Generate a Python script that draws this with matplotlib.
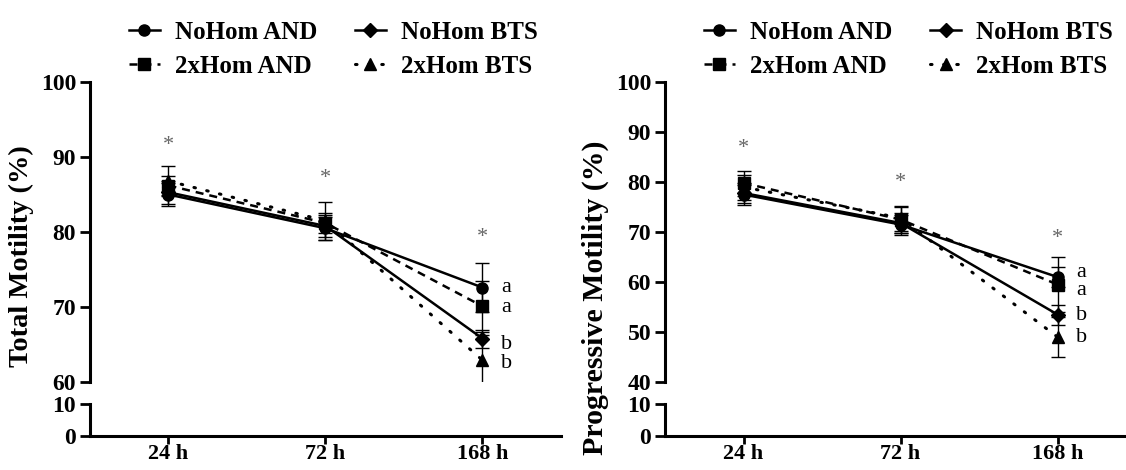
import matplotlib.pyplot as plt

plt.rcParams["font.family"] = ["Liberation Serif", "DejaVu Serif"]

times = ["24 h", "72 h", "168 h"]
series = ["NoHom AND", "NoHom BTS", "2xHom AND", "2xHom BTS"]

# Total motility (%), mean and error
total_mean = {
    "NoHom AND": [85.0, 80.5, 72.6],
    "NoHom BTS": [85.3, 80.8, 65.8],
    "2xHom AND": [86.2, 81.2, 70.1],
    "2xHom BTS": [86.8, 81.5, 62.9],
}
total_err = {
    "NoHom AND": [1.5, 1.5, 3.3],
    "NoHom BTS": [1.5, 1.5, 1.2],
    "2xHom AND": [1.3, 1.3, 3.4],
    "2xHom BTS": [2.0, 2.5, 3.4],
}
total_stars = [91.5, 87.2, 79.3]
total_letters = ["a", "b", "a", "b"]
total_letter_y = [72.6, 65.0, 70.0, 62.5]

# Progressive motility (%), mean and error
prog_mean = {
    "NoHom AND": [77.5, 71.5, 61.0],
    "NoHom BTS": [77.8, 71.8, 53.5],
    "2xHom AND": [79.8, 72.5, 59.5],
    "2xHom BTS": [79.0, 72.8, 49.0],
}
prog_err = {
    "NoHom AND": [2.0, 2.0, 2.0],
    "NoHom BTS": [2.0, 2.0, 2.0],
    "2xHom AND": [2.5, 2.6, 5.5],
    "2xHom BTS": [2.5, 2.5, 4.0],
}
prog_stars = [86.7, 80.0, 68.8]
prog_letters = ["a", "b", "a", "b"]
prog_letter_y = [62.0, 53.3, 58.4, 48.9]

styles = {
    "NoHom AND": dict(marker="o", linestyle="-"),
    "NoHom BTS": dict(marker="D", linestyle="-", markersize=7),
    "2xHom AND": dict(marker="s", linestyle=(0, (3.2, 2.4))),
    "2xHom BTS": dict(marker="^", linestyle=(0, (0.5, 3.8)), linewidth=2.2,
                      dash_capstyle="round"),
}


def style_axis(ax):
    ax.spines["top"].set_visible(False)
    ax.spines["right"].set_visible(False)
    ax.spines["left"].set_linewidth(2.2)
    ax.spines["bottom"].set_linewidth(2.2)
    ax.tick_params(axis="y", direction="out", length=7, width=2, pad=3, labelsize=17)
    ax.tick_params(axis="x", direction="out", length=5.5, width=2, pad=0.5, labelsize=16)
    for lab in ax.get_yticklabels() + ax.get_xticklabels():
        lab.set_fontweight("bold")


def draw_panel(fig, left, width, means, errs, stars, letters, letter_y,
               ylo, ylabel, label_size, label_y):
    ax = fig.add_axes([left, 0.1872, width, 0.6383])
    axb = fig.add_axes([left, 0.0723, width, 0.068])
    x = list(range(len(times)))
    handles = []
    for name in series:
        st = dict(styles[name])
        ms = st.pop("markersize", 8)
        lw = st.pop("linewidth", 1.8)
        ax.errorbar(x, means[name], yerr=errs[name], fmt="none", ecolor="black",
                    elinewidth=1, capsize=5, capthick=1, zorder=2)
        (h,) = ax.plot(x, means[name], color="black", linewidth=lw,
                       markersize=ms, label=name, zorder=3, **st)
        handles.append(h)
    for xi, sy in zip(x, stars):
        ax.text(xi, sy, "*", ha="center", va="center", fontsize=16, color="#666666")
    for let, ly in zip(letters, letter_y):
        ax.text(x[-1] + 0.12, ly, let, ha="left", va="center", fontsize=16)

    ax.set_xlim(-0.5, 2.5)
    ax.set_ylim(ylo, 100)
    ax.set_yticks(range(ylo, 101, 10))
    ax.set_xticks([])
    style_axis(ax)
    ax.spines["bottom"].set_visible(False)

    axb.set_xlim(-0.5, 2.5)
    axb.set_ylim(0, 10)
    axb.set_yticks([0, 10])
    axb.set_xticks(x)
    axb.set_xticklabels(times)
    style_axis(axb)

    ax.set_ylabel(ylabel, fontsize=label_size, fontweight="bold")
    ax.yaxis.set_label_coords(-0.118, label_y)

    fig.legend(handles=[handles[0], handles[2], handles[1], handles[3]],
               labels=[series[0], series[2], series[1], series[3]],
               ncol=2, loc="center", frameon=False, handlelength=1.25,
               columnspacing=1.5, handletextpad=0.6, labelspacing=0.45,
               bbox_to_anchor=(left + width / 2 + 0.007, 0.895),
               prop=dict(size=18, weight="bold"))
    return ax


fig = plt.figure(figsize=(11.26, 4.70), dpi=100)
draw_panel(fig, 0.0799, 0.4183, total_mean, total_err, total_stars,
           total_letters, total_letter_y, 60, "Total Motility (%)", 20.5, 0.42)
draw_panel(fig, 0.5906, 0.4183, prog_mean, prog_err, prog_stars,
           prog_letters, prog_letter_y, 40, "Progressive Motility (%)", 21.5, 0.28)
fig.savefig("out.png", dpi=100)
